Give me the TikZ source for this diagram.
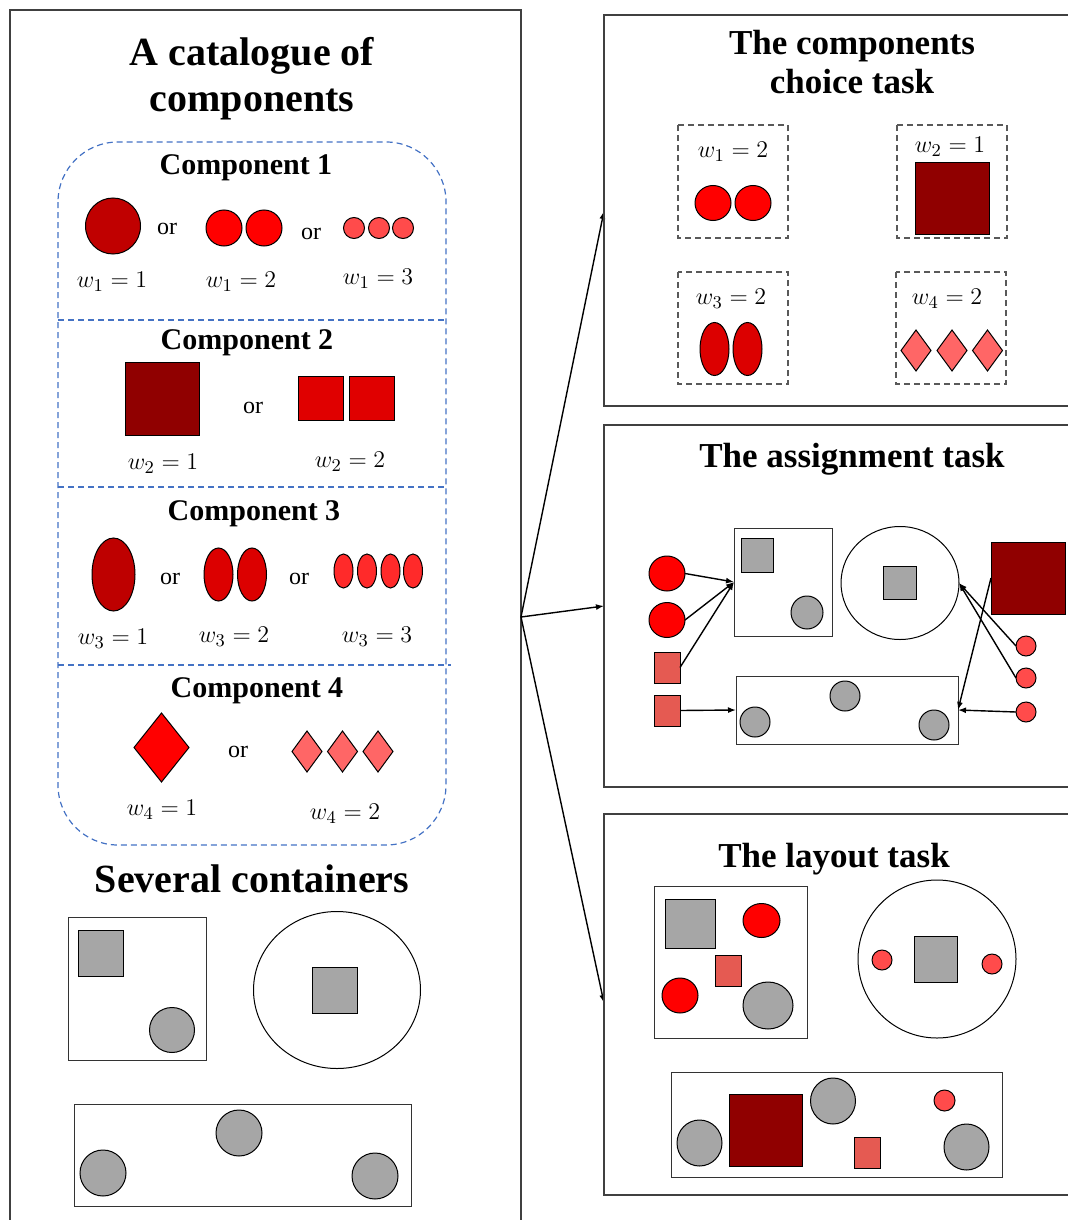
\documentclass[tikz,border=0pt]{standalone}
\usepackage{fontspec}
\setmainfont{Liberation Serif}
\usepackage{xcolor}
\usetikzlibrary{arrows.meta, positioning, shapes.geometric}
\newdimen\pxu \pxu=0.5pt
\definecolor{compA}{HTML}{C00000}
\definecolor{vivid}{HTML}{FF0000}
\definecolor{salmon}{HTML}{FF4B4B}
\definecolor{maroon}{HTML}{900000}
\definecolor{crim}{HTML}{E00000}
\definecolor{ellA}{HTML}{BE0000}
\definecolor{ellB}{HTML}{DC0000}
\definecolor{ellC}{HTML}{FF2A2A}
\definecolor{rose}{HTML}{FF6666}
\definecolor{brick}{HTML}{E55A52}
\definecolor{stone}{HTML}{A6A6A6}
\definecolor{catblue}{HTML}{4472C4}
\tikzset{
    shp/.style={draw=black, line width=0.5pt, inner sep=0pt, outer sep=0pt},
    rnd/.style args={#1x#2}{shp, ellipse, minimum width=#1\pxu, minimum height=#2\pxu},
    blk/.style args={#1x#2}{shp, rectangle, minimum width=#1\pxu, minimum height=#2\pxu},
    gem/.style args={#1x#2}{shp, diamond, minimum width=#1\pxu, minimum height=#2\pxu},
    hold/.style args={#1x#2}{blk=#1x#2, draw=black!80, fill=white},
    panelLine/.style={draw=black!75, line width=0.7pt},
    catLine/.style={draw=catblue, line width=0.6pt, dash pattern=on 3pt off 2pt},
    pickBox/.style={draw=black!65, line width=0.6pt, dash pattern=on 3pt off 2pt},
    bigTitle/.style={font=\fontsize{20}{23}\selectfont\bfseries, align=center, inner sep=0pt},
    taskTitle/.style={font=\fontsize{17.5}{19.5}\selectfont\bfseries, align=center, inner sep=0pt},
    compTitle/.style={font=\fontsize{15}{17}\selectfont\bfseries, inner sep=0pt, yshift=-1.2pt},
    wLbl/.style={font=\fontsize{12.5}{14}\selectfont, inner sep=0pt, yshift=-1pt},
    orLbl/.style={font=\fontsize{12}{14}\selectfont, inner sep=0pt, yshift=-1.2pt},
    flow/.style={line width=0.7pt, black}
}

\begin{document}
\begin{tikzpicture}[x=0.5pt, y=-0.5pt, >={Latex[length=4pt, width=3pt]}]
    \useasboundingbox (0,0) rectangle (1067,1220);
    % --- Catalogue panel ---
    \draw[panelLine] (10,1230) -- (10,10) -- (521,10) -- (521,1230);
    \node[bigTitle] (catTitle) at (252,79) {A catalogue of\\components};
    \draw[catLine, rounded corners=30pt] (58,142) rectangle (446,845);
    \draw[catLine] (58,320) -- (446,320);
    \draw[catLine] (58,487) -- (446,487);
    \draw[catLine] (58,665) -- (451,665);
    % component 1
    \node[compTitle] (c1Title) at (246,165) {Component 1};
    \node[rnd=55x56, fill=compA] (c1One) at (113,226) {};
    \node[orLbl] (c1OrA) at (167,227) {or};
    \node[rnd=36x36, fill=vivid] (c1TwoA) at (224,228) {};
    \node[rnd=36x36, fill=vivid] (c1TwoB) at (264,228) {};
    \node[orLbl] (c1OrB) at (311,232) {or};
    \node[rnd=21x21, fill=salmon] (c1ThrA) at (354,228) {};
    \node[rnd=21x21, fill=salmon] (c1ThrB) at (379,228) {};
    \node[rnd=21x21, fill=salmon] (c1ThrC) at (403,228) {};
    \node[wLbl] (c1W1) at (112,280) {$w_1 = 1$};
    \node[wLbl] (c1W2) at (241,280) {$w_1 = 2$};
    \node[wLbl] (c1W3) at (378,277) {$w_1 = 3$};
    % component 2
    \node[compTitle] (c2Title) at (247,340) {Component 2};
    \node[blk=74x73, fill=maroon] (c2One) at (162,398.5) {};
    \node[orLbl] (c2Or) at (253,406) {or};
    \node[blk=45x44, fill=crim] (c2TwoA) at (320.5,398) {};
    \node[blk=45x44, fill=crim] (c2TwoB) at (372,398) {};
    \node[wLbl] (c2W1) at (163,462) {$w_2 = 1$};
    \node[wLbl] (c2W2) at (350,460) {$w_2 = 2$};
    % component 3
    \node[compTitle] (c3Title) at (254,511) {Component 3};
    \node[rnd=43x73, fill=ellA] (c3One) at (113.5,574.5) {};
    \node[orLbl] (c3OrA) at (170,577) {or};
    \node[rnd=29x53, fill=ellB] (c3TwoA) at (218.5,574.5) {};
    \node[rnd=29x53, fill=ellB] (c3TwoB) at (252,574.5) {};
    \node[orLbl] (c3OrB) at (299,577) {or};
    \node[rnd=19x34, fill=ellC] (c3FourA) at (343.5,571) {};
    \node[rnd=19x34, fill=ellC] (c3FourB) at (367,571) {};
    \node[rnd=19x34, fill=ellC] (c3FourC) at (390.5,571) {};
    \node[rnd=19x34, fill=ellC] (c3FourD) at (413,571) {};
    \node[wLbl] (c3W1) at (113,637) {$w_3 = 1$};
    \node[wLbl] (c3W2) at (234,635) {$w_3 = 2$};
    \node[wLbl] (c3W3) at (377,635) {$w_3 = 3$};
    % component 4
    \node[compTitle] (c4Title) at (257,688) {Component 4};
    \node[gem=55x69, fill=vivid] (c4One) at (161.5,747.5) {};
    \node[orLbl] (c4Or) at (238,750) {or};
    \node[gem=30x41, fill=rose] (c4ThrA) at (307,751.5) {};
    \node[gem=30x41, fill=rose] (c4ThrB) at (342.5,751.5) {};
    \node[gem=30x41, fill=rose] (c4ThrC) at (378,751.5) {};
    \node[wLbl] (c4W1) at (162,808) {$w_4 = 1$};
    \node[wLbl] (c4W2) at (345,812) {$w_4 = 2$};
    % several containers
    \node[bigTitle] (contTitle) at (252,879) {Several containers};
    \node[hold=138x143] (sBox) at (137,988.5) {};
    \node[blk=45x46, fill=stone] (sBoxSq) at (101,953) {};
    \node[rnd=45x45, fill=stone] (sBoxDot) at (172,1030) {};
    \node[shp, ellipse, minimum width=167\pxu, minimum height=157\pxu, draw=black] (sRing) at (337,990) {};
    \node[blk=45x46, fill=stone] (sRingSq) at (335,990) {};
    \node[hold=337x102] (sLong) at (242.5,1155) {};
    \node[rnd=46x46, fill=stone] (sLongA) at (103,1173) {};
    \node[rnd=46x46, fill=stone] (sLongB) at (239,1133) {};
    \node[rnd=46x46, fill=stone] (sLongC) at (375,1176) {};

    % --- Arrows to the tasks ---
    \coordinate (hub) at (521,617);
    \coordinate (choiceIn) at (604,211);
    \coordinate (assignIn) at (604,606);
    \coordinate (layoutIn) at (604,1003);
    \draw[->, flow] (hub) -- (choiceIn);
    \draw[->, flow] (hub) -- (assignIn);
    \draw[->, flow] (hub) -- (layoutIn);

    % --- The components choice task ---
    \draw[panelLine] (1075,15) -| (604,406) -- (1075,406);
    \node[taskTitle] (choiceTitle) at (852,62) {The components\\choice task};
    \draw[pickBox] (678,125) rectangle (788,238);
    \draw[pickBox] (897,125) rectangle (1007,238);
    \draw[pickBox] (678,272) rectangle (788,384);
    \draw[pickBox] (896,272) rectangle (1006,384);
    \node[wLbl] (pW1) at (733,150) {$w_1 = 2$};
    \node[wLbl] (pW2) at (950,145) {$w_2 = 1$};
    \node[wLbl] (pW3) at (731,297) {$w_3 = 2$};
    \node[wLbl] (pW4) at (947,297) {$w_4 = 2$};
    \node[rnd=36x35, fill=vivid] (pDotA) at (713,203) {};
    \node[rnd=36x35, fill=vivid] (pDotB) at (753,203) {};
    \node[blk=74x72, fill=maroon] (pSq) at (952,198) {};
    \node[rnd=29x53, fill=ellB] (pEllA) at (714.5,349) {};
    \node[rnd=29x53, fill=ellB] (pEllB) at (747.5,349) {};
    \node[gem=30x41, fill=rose] (pGemA) at (916,350.5) {};
    \node[gem=30x41, fill=rose] (pGemB) at (952,350.5) {};
    \node[gem=30x41, fill=rose] (pGemC) at (987.5,350.5) {};

    % --- The assignment task ---
    \draw[panelLine] (1075,425) -| (604,787) -- (1075,787);
    \node[taskTitle] (assignTitle) at (852,459) {The assignment task};
    \node[hold=98x108] (aBoxA) at (783,582) {};
    \node[blk=32x34, fill=stone] (aBoxASq) at (757,555) {};
    \node[rnd=32x33, fill=stone] (aBoxADot) at (807,612.5) {};
    \node[shp, ellipse, minimum width=118\pxu, minimum height=113\pxu, draw=black] (aRing) at (900,583) {};
    \node[blk=33x33, fill=stone] (aRingSq) at (899.5,582.5) {};
    \node[hold=222x68] (aLong) at (847,710) {};
    \node[rnd=30x30, fill=stone] (aLongA) at (755,722) {};
    \node[rnd=30x30, fill=stone] (aLongB) at (845,696) {};
    \node[rnd=30x30, fill=stone] (aLongC) at (934,725) {};
    \node[rnd=36x35, fill=vivid] (aRedA) at (667,573.5) {};
    \node[rnd=36x35, fill=vivid] (aRedB) at (667,620) {};
    \node[blk=26x31, fill=brick] (aSqA) at (667,667.5) {};
    \node[blk=26x31, fill=brick] (aSqB) at (667,710.5) {};
    \node[blk=74x72, fill=maroon] (aBig) at (1028,578) {};
    \node[rnd=20x20, fill=salmon] (aPinkA) at (1026,646) {};
    \node[rnd=20x20, fill=salmon] (aPinkB) at (1026,678) {};
    \node[rnd=20x20, fill=salmon] (aPinkC) at (1026,712) {};
    \draw[->, flow] (aRedA.east) -- (aBoxA.west);
    \draw[->, flow] (aRedB.east) -- (aBoxA.west);
    \draw[->, flow] (aSqA.east) -- (aBoxA.west);
    \draw[->, flow] (aSqB.east) -- (aLong.west);
    \draw[->, flow] (aPinkA.west) -- (aRing.east);
    \draw[->, flow] (aPinkB.west) -- (aRing.east);
    \draw[->, flow] (aPinkC.west) -- (aLong.east);
    \draw[->, flow] (aBig.west) -- (aLong.east);

    % --- The layout task ---
    \draw[panelLine] (1075,814) -| (604,1195) -- (1075,1195);
    \node[taskTitle] (layoutTitle) at (834,859) {The layout task};
    \node[hold=153x152] (lBox) at (730.5,962) {};
    \node[blk=50x49, fill=stone] (lBoxSq) at (690,923.5) {};
    \node[rnd=37x34, fill=vivid] (lBoxRedA) at (761.5,920.5) {};
    \node[blk=26x31, fill=brick] (lBoxBrick) at (728,970.5) {};
    \node[rnd=36x35, fill=vivid] (lBoxRedB) at (680,995.5) {};
    \node[rnd=50x47, fill=stone] (lBoxDot) at (768,1005.5) {};
    \node[shp, ellipse, minimum width=158\pxu, minimum height=158\pxu, draw=black] (lRing) at (937,959) {};
    \node[blk=43x46, fill=stone] (lRingSq) at (935.5,959) {};
    \node[rnd=20x20, fill=salmon] (lRingA) at (882,960) {};
    \node[rnd=20x20, fill=salmon] (lRingB) at (992,964) {};
    \node[hold=331x105] (lLong) at (836.5,1124.5) {};
    \node[rnd=45x46, fill=stone] (lLongA) at (699.5,1143) {};
    \node[blk=73x72, fill=maroon] (lLongSq) at (765.5,1130) {};
    \node[rnd=45x46, fill=stone] (lLongB) at (833,1101) {};
    \node[blk=26x31, fill=brick] (lLongBrick) at (867,1152.5) {};
    \node[rnd=21x21, fill=salmon] (lLongPink) at (944.5,1100.5) {};
    \node[rnd=45x46, fill=stone] (lLongC) at (966.5,1147) {};
\end{tikzpicture}
\end{document}
